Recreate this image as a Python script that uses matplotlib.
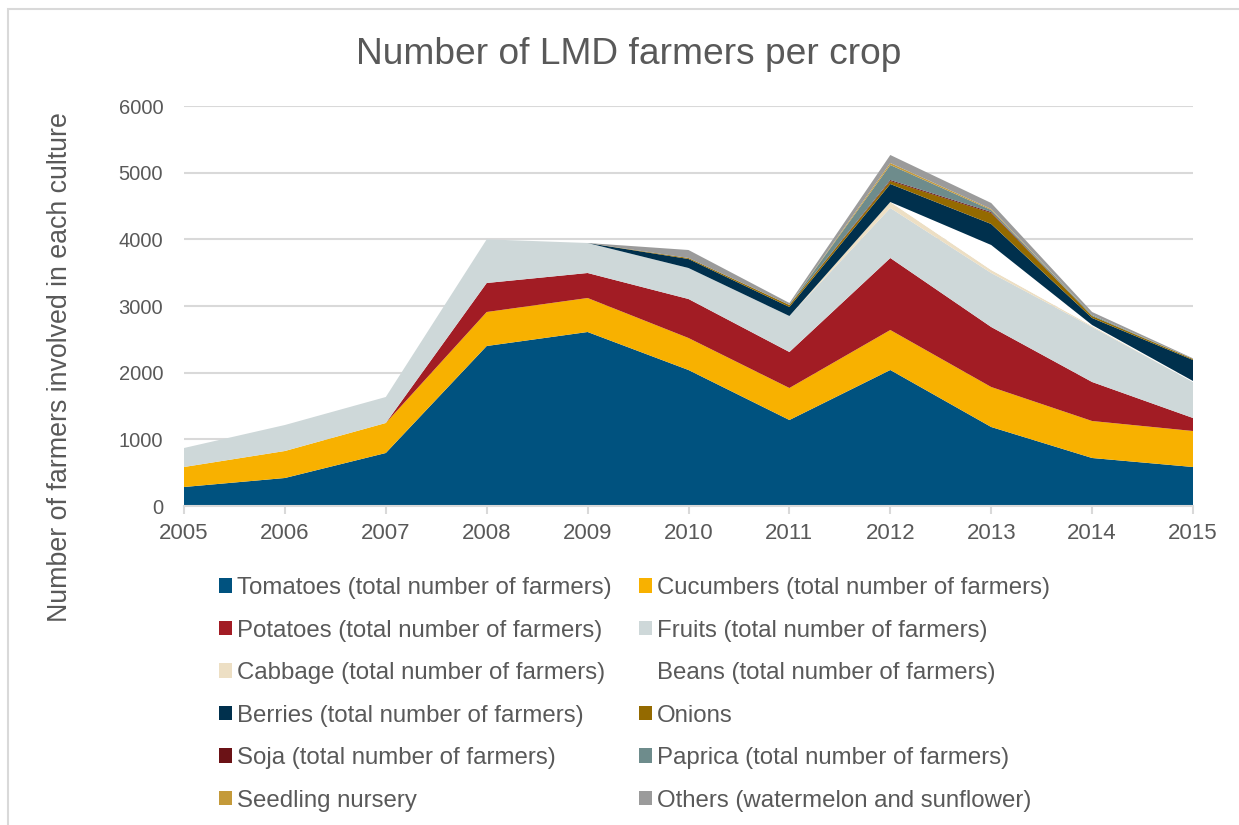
import numpy as np
import matplotlib.pyplot as plt
from matplotlib.patches import Rectangle, Patch

plt.rcParams['font.family'] = ['Liberation Sans', 'DejaVu Sans']

# number of farmers per crop and year
years = [2005, 2006, 2007, 2008, 2009, 2010, 2011, 2012, 2013, 2014, 2015]
tomatoes = [285, 420, 795, 2400, 2610, 2040, 1290, 2040, 1185, 720, 585]
cucumbers = [300, 405, 450, 510, 510, 480, 480, 600, 600, 555, 540]
potatoes = [0, 0, 0, 435, 375, 585, 540, 1080, 900, 585, 195]
fruits = [285, 390, 390, 655, 450, 465, 540, 750, 810, 825, 540]
cabbage = [0, 0, 0, 0, 0, 0, 0, 90, 45, 15, 0]
beans = [0, 0, 0, 0, 0, 0, 0, 0, 375, 15, 15]
berries = [0, 0, 0, 0, 0, 135, 135, 270, 315, 105, 315]
onions = [0, 0, 0, 0, 0, 15, 30, 45, 165, 30, 15]
soja = [0, 0, 0, 0, 0, 0, 0, 15, 15, 0, 0]
paprica = [0, 0, 0, 0, 0, 0, 0, 225, 30, 15, 0]
seedling = [0, 0, 0, 0, 0, 0, 0, 30, 15, 0, 0]
others = [0, 0, 0, 0, 0, 120, 30, 120, 90, 45, 10]

labels = ['Tomatoes (total number of farmers)', 'Cucumbers (total number of farmers)',
          'Potatoes (total number of farmers)', 'Fruits (total number of farmers)',
          'Cabbage (total number of farmers)', 'Beans (total number of farmers)',
          'Berries (total number of farmers)', 'Onions',
          'Soja (total number of farmers)', 'Paprica (total number of farmers)',
          'Seedling nursery', 'Others (watermelon and sunflower)']
colors = ['#00527F', '#F8B100', '#A21C24', '#CED8D9', '#EDDFC4', '#FFFFFF',
          '#00304D', '#946A00', '#6B1216', '#6E8C8C', '#C49A3A', '#9B9B9B']

series = [tomatoes, cucumbers, potatoes, fruits, cabbage, beans,
          berries, onions, soja, paprica, seedling, others]

txt = '#595959'
fig = plt.figure(figsize=(12.39, 8.25), dpi=100)
ax = fig.add_axes([184 / 1239, 1 - 506 / 825, 1009 / 1239, 400 / 825])

ax.stackplot(years, *series, colors=colors, linewidth=0)

ax.set_xlim(2005, 2015)
ax.set_ylim(0, 6000)
ax.set_xticks(years)
ax.set_yticks(range(0, 6001, 1000))
ax.grid(axis='y', color='#D9D9D9', linewidth=1.5)
ax.set_axisbelow(True)
for s in ['top', 'right', 'left']:
    ax.spines[s].set_visible(False)
ax.spines['bottom'].set_color('#D9D9D9')
ax.spines['bottom'].set_linewidth(1.5)
ax.tick_params(axis='x', colors='#D9D9D9', length=6, width=1.5, labelcolor=txt,
               labelsize=16, pad=6)
ax.tick_params(axis='y', length=0, labelcolor=txt, labelsize=14.5, pad=15)

fig.text(629 / 1239, 1 - 55 / 825, 'Number of LMD farmers per crop', ha='center',
         va='center', fontsize=26.7, color=txt)
fig.text(60 / 1239, 1 - 367 / 825, 'Number of farmers involved in each culture',
         rotation=90, ha='center', va='center', fontsize=19.3, color=txt)

# row-major ordering for a two-column legend
handles = [Patch(facecolor=c, edgecolor='none') for c in colors]
order = list(range(0, 12, 2)) + list(range(1, 12, 2))
fig.legend([handles[i] for i in order], [labels[i] for i in order], ncol=2,
           loc='upper left', bbox_to_anchor=(219 / 1239, 1 - 577 / 825),
           frameon=False, fontsize=17.3, labelcolor=txt, handlelength=0.55,
           handleheight=0.55, handletextpad=0.2, columnspacing=1.15,
           labelspacing=0.855, borderpad=0, borderaxespad=0)

# chart border
fig.patches.append(Rectangle((8 / 1239, -0.5), 2.0, 1.5 - 9 / 825,
                             transform=fig.transFigure, fill=False,
                             edgecolor='#D9D9D9', linewidth=1.5))

fig.savefig('out.png', dpi=100)
